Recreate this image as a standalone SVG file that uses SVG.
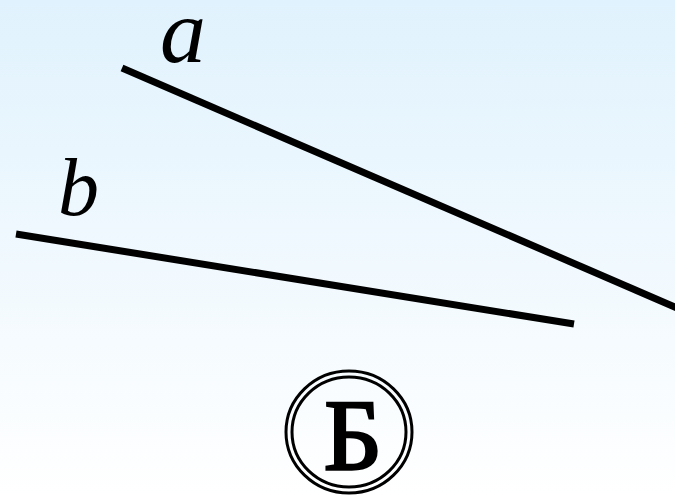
<svg xmlns="http://www.w3.org/2000/svg" width="675" height="495" viewBox="0 0 675 495">
<defs>
<linearGradient id="bg" x1="0" y1="0" x2="0" y2="1">
<stop offset="0" stop-color="#e0f2fd"/>
<stop offset="1" stop-color="#ffffff"/>
</linearGradient>
<style>
.ln{stroke:#000;stroke-width:7;fill:none}
.lbl{font-family:"Liberation Serif","DejaVu Serif",serif;font-style:italic;fill:#000}
.ring{fill:none;stroke:#000;stroke-width:3}
.big{font-family:"Liberation Serif","DejaVu Serif",serif;fill:#000;stroke:#000;stroke-width:2.5}
</style>
</defs>
<rect width="675" height="495" fill="url(#bg)"/>
<g id="connectors">
<line id="line-a" class="ln" x1="122" y1="68" x2="677" y2="308"/>
<line id="line-b" class="ln" x1="16" y1="234" x2="574" y2="324"/>
</g>
<g id="label-a"><text class="lbl" x="160" y="62" font-size="92">a</text></g>
<g id="label-b"><text class="lbl" x="58" y="215" font-size="82">b</text></g>
<g id="badge">
<ellipse class="ring" cx="349" cy="432" rx="63" ry="61"/>
<ellipse class="ring" cx="349" cy="432" rx="57" ry="55"/>
<text class="big" x="353" y="470" font-size="102" text-anchor="middle">Б</text>
</g>
</svg>
